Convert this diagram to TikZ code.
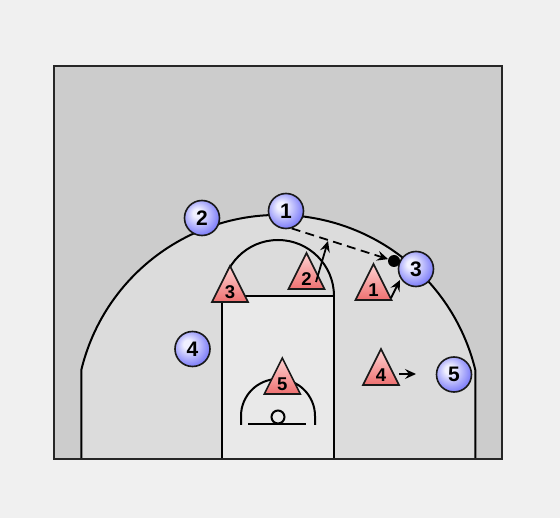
\documentclass[tikz,border=0pt]{standalone}
\usepackage{fontspec}
\setmainfont{Liberation Sans}
\usetikzlibrary{arrows.meta}
\definecolor{bgc}{HTML}{F0F0F0}
\definecolor{courtc}{HTML}{CCCCCC}
\definecolor{arcc}{HTML}{DCDCDC}
\definecolor{lanec}{HTML}{E9E9E9}
\definecolor{offlight}{HTML}{F0F0FF}
\definecolor{offdark}{HTML}{6A6AF8}
\definecolor{deflight}{HTML}{FFD4D4}
\definecolor{defdark}{HTML}{EE7070}
\pgfdeclareradialshading{offshade}{\pgfpoint{-8bp}{8bp}}{color(0bp)=(offlight); color(6bp)=(offlight); color(32bp)=(offdark); color(50bp)=(offdark)}
\begin{document}
\begin{tikzpicture}[x=1pt,y=-1pt,
  courtline/.style={line width=2pt, black},
  offense/.style={circle, draw=black!90, line width=1.6pt, shading=offshade, minimum size=35pt, inner sep=0pt, font=\bfseries\fontsize{21}{21}\selectfont},
  defshape/.style={draw=black!90, line width=1.6pt, top color=deflight, bottom color=defdark, line join=miter},
  deflabel/.style={inner sep=0pt, font=\bfseries\fontsize{18.5}{18.5}\selectfont},
  move/.style={line width=1.8pt, -{Stealth[length=11pt,width=10pt,inset=4pt]}},
  pass/.style={move, dash pattern=on 9pt off 5.5pt},
  ballnode/.style={circle, fill=black, minimum size=12pt, inner sep=0pt}]
\fill[bgc] (0,0) rectangle (560,518);
\useasboundingbox (0,0) rectangle (560,518);
% court
\fill[courtc] (54,66) rectangle (502,459);
\fill[arcc] (81.3,459) -- (81.3,370) arc[start angle=166.4, end angle=13.6, radius=202.7pt] -- (475.3,459) -- cycle;
\fill[lanec] (222,296) rectangle (334,459);
\draw[courtline] (81.3,459) -- (81.3,370) arc[start angle=166.4, end angle=13.6, radius=202.7pt] -- (475.3,459);
\draw[courtline] (222,459) -- (222,296) -- (334,296) -- (334,459);
\draw[courtline] (222,296) arc[start angle=180, end angle=0, radius=56pt];
\draw[courtline] (241,425) -- (241,416) arc[start angle=180, end angle=0, radius=37pt] -- (315,425);
\draw[courtline] (248,424) -- (306,424);
\draw[courtline, fill=lanec] (278,417) circle[radius=6.5pt];
\draw[line width=2.5pt, black!85] (54,66) rectangle (502,459);
% defense
\foreach \n/\cx/\by in {1/373.5/300, 2/306.5/289, 3/230/302, 4/381/385, 5/282.3/394} {
  \path[defshape] (\cx-18,\by) -- (\cx+18,\by) -- (\cx,\by-36) -- cycle;
  \node[deflabel] (d\n) at (\cx,\by-10) {\n};
}
% offense
\node[offense] (o1) at (286,211) {1};
\node[offense] (o2) at (202,218) {2};
\node[offense] (o3) at (416,269) {3};
\node[offense] (o4) at (192.5,349) {4};
\node[offense] (o5) at (454,374.5) {5};
\node[ballnode] (ball) at (394,261) {};
% movements
\coordinate (d2from) at (316,282);
\coordinate (d2to) at (328,241);
\coordinate (d1from) at (391,298);
\coordinate (d1to) at (400,280);
\coordinate (d4from) at (399,374);
\coordinate (d4to) at (416,374);
\draw[move] (d2from) -- (d2to);
\draw[move] (d1from) -- (d1to);
\draw[move] (d4from) -- (d4to);
\draw[pass] (o1.-72) -- (ball);
\end{tikzpicture}
\end{document}
